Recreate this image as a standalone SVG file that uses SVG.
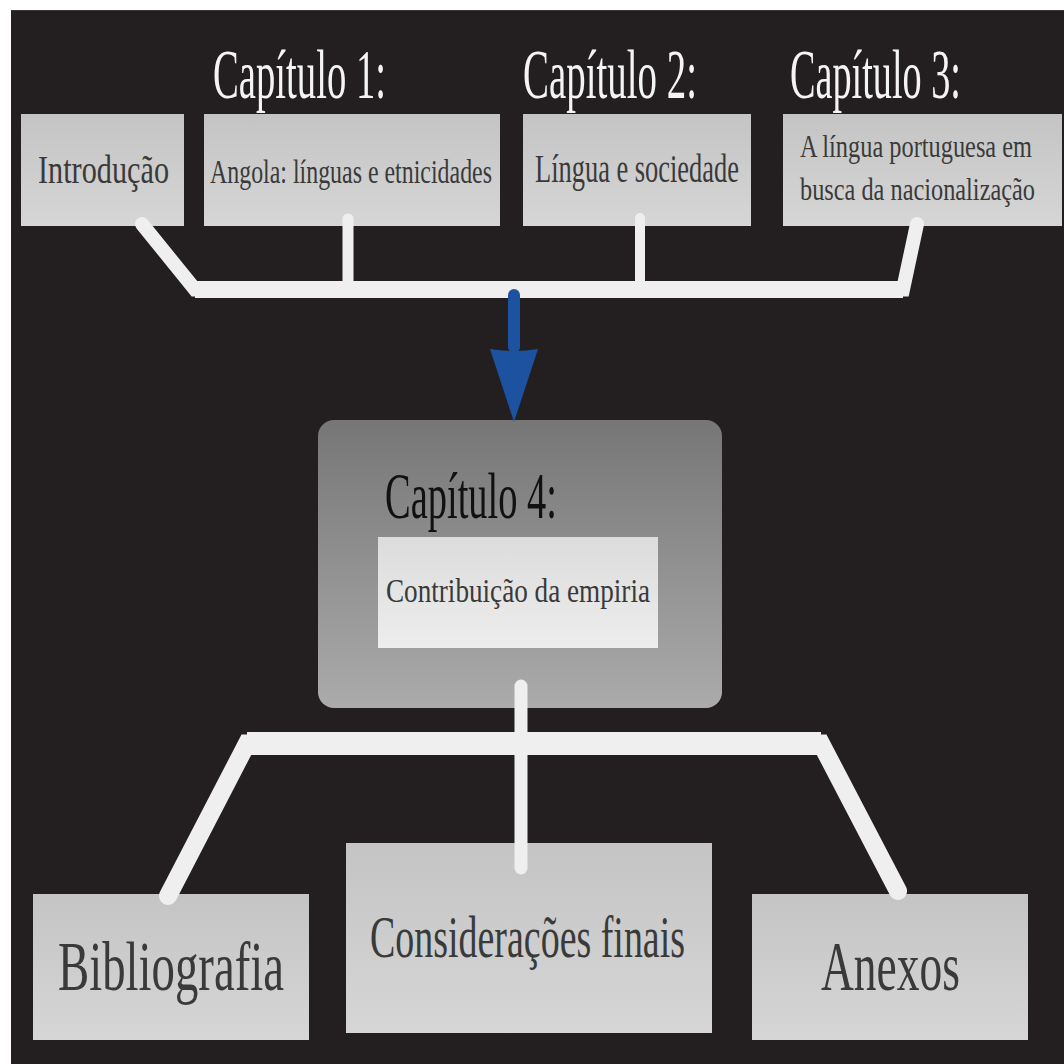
<svg xmlns="http://www.w3.org/2000/svg" width="1064" height="1064" viewBox="0 0 1064 1064">
  <defs>
    <linearGradient id="boxGrad" x1="0" y1="0" x2="0" y2="1">
      <stop offset="0" stop-color="#c4c4c4"/>
      <stop offset="1" stop-color="#d6d6d6"/>
    </linearGradient>
    <linearGradient id="ch4Grad" x1="0" y1="0" x2="0" y2="1">
      <stop offset="0" stop-color="#767676"/>
      <stop offset="1" stop-color="#ababab"/>
    </linearGradient>
    <linearGradient id="innerGrad" x1="0" y1="0" x2="0" y2="1">
      <stop offset="0" stop-color="#dcdcdc"/>
      <stop offset="1" stop-color="#ededed"/>
    </linearGradient>
    <style>
      .box { fill: url(#boxGrad); }
      .title { font-family: "Liberation Serif", "DejaVu Serif", serif; fill: #f4f4f4; }
      .label { font-family: "Liberation Serif", "DejaVu Serif", serif; fill: #3a3a3a; }
      .dark { font-family: "Liberation Serif", "DejaVu Serif", serif; fill: #111111; }
      .conn { fill: none; stroke: #efefef; stroke-linecap: round; stroke-linejoin: miter; }
    </style>
  </defs>

  <rect x="0" y="0" width="1064" height="1064" fill="#ffffff"/>
  <rect x="11" y="10" width="1053" height="1054" fill="#231f20"/>
  <line x1="11" y1="10.5" x2="1064" y2="10.5" stroke="#3a3637" stroke-width="1"/>

  <g id="titles">
    <text class="title" transform="translate(213,98) scale(0.55,1)" font-size="70" textLength="314.5" lengthAdjust="spacingAndGlyphs">Capítulo 1:</text>
    <text class="title" transform="translate(523,98) scale(0.55,1)" font-size="70" textLength="316.4" lengthAdjust="spacingAndGlyphs">Capítulo 2:</text>
    <text class="title" transform="translate(790,98) scale(0.55,1)" font-size="70" textLength="310.9" lengthAdjust="spacingAndGlyphs">Capítulo 3:</text>
  </g>

  <g id="node-introducao">
    <rect class="box" x="21" y="114" width="163" height="112"/>
    <text class="label" transform="translate(38,183) scale(0.76,1)" font-size="40" textLength="172.4" lengthAdjust="spacingAndGlyphs">Introdução</text>
  </g>

  <g id="node-cap1">
    <rect class="box" x="204" y="114" width="296" height="112"/>
    <text class="label" transform="translate(210,183) scale(0.715,1)" font-size="34" textLength="394.4" lengthAdjust="spacingAndGlyphs">Angola: línguas e etnicidades</text>
  </g>

  <g id="node-cap2">
    <rect class="box" x="523" y="114" width="228" height="112"/>
    <text class="label" transform="translate(535,182) scale(0.68,1)" font-size="39" textLength="300" lengthAdjust="spacingAndGlyphs">Língua e sociedade</text>
  </g>

  <g id="node-cap3">
    <rect class="box" x="783" y="114" width="279" height="112"/>
    <text class="label" transform="translate(800,157) scale(0.757,1)" font-size="32" textLength="306.5" lengthAdjust="spacingAndGlyphs">A língua portuguesa em</text>
    <text class="label" transform="translate(800,200) scale(0.757,1)" font-size="32" textLength="310.4" lengthAdjust="spacingAndGlyphs">busca da nacionalização</text>
  </g>

  <g id="node-cap4">
    <rect x="318" y="420" width="404" height="288" rx="16" ry="16" fill="url(#ch4Grad)"/>
    <text class="dark" transform="translate(385,518) scale(0.58,1)" font-size="66" textLength="296.6" lengthAdjust="spacingAndGlyphs">Capítulo 4:</text>
    <rect x="378" y="537" width="280" height="111" fill="url(#innerGrad)"/>
    <text class="label" transform="translate(386,602) scale(0.8,1)" font-size="34" textLength="330" lengthAdjust="spacingAndGlyphs">Contribuição da empiria</text>
  </g>

  <g id="node-bibliografia">
    <rect class="box" x="33" y="894" width="276" height="146"/>
    <text class="label" transform="translate(58,990) scale(0.67,1)" font-size="70" textLength="337.3" lengthAdjust="spacingAndGlyphs">Bibliografia</text>
  </g>

  <g id="node-consideracoes">
    <rect class="box" x="346" y="843" width="366" height="190"/>
    <text class="label" transform="translate(370,957) scale(0.63,1)" font-size="60" textLength="500" lengthAdjust="spacingAndGlyphs">Considerações finais</text>
  </g>

  <g id="node-anexos">
    <rect class="box" x="752" y="894" width="276" height="146"/>
    <text class="label" transform="translate(821,990) scale(0.65,1)" font-size="70" textLength="213.8" lengthAdjust="spacingAndGlyphs">Anexos</text>
  </g>

  <g id="connectors">
    <path class="conn" d="M142,224 L195,289.5 L903,289.5 L917,224" stroke-width="14"/>
    <line x1="195" y1="289.5" x2="903" y2="289.5" stroke="#efefef" stroke-width="17"/>
    <line class="conn" x1="348" y1="219" x2="348" y2="289" stroke-width="11"/>
    <line class="conn" x1="640" y1="218" x2="640" y2="289" stroke-width="10"/>

    <line class="conn" x1="521" y1="686" x2="521" y2="868" stroke-width="13"/>
    <path class="conn" d="M168,896 L247,743.5 L821,743.5 L898,891" stroke-width="18"/>
    <line x1="247" y1="743.5" x2="821" y2="743.5" stroke="#efefef" stroke-width="23"/>

    <g id="arrow" fill="#1d52a0">
      <rect x="508" y="289" width="12" height="64" rx="6" ry="6"/>
      <path d="M490,349 Q514,353 538,349 L514,422 Z"/>
    </g>
  </g>
</svg>
